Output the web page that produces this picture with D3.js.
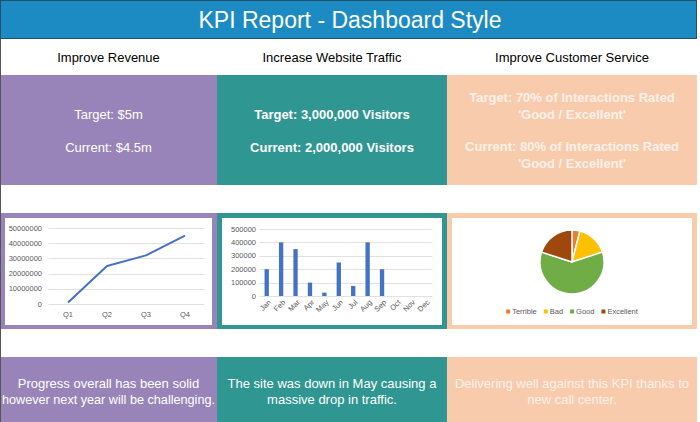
<!DOCTYPE html>
<html>
<head>
<meta charset="utf-8">
<script src="https://cdn.jsdelivr.net/npm/d3@7"></script>
<style>
  body { margin: 0; background: #fff; }
  svg { display: block; font-family: "Liberation Sans", Arial, sans-serif; }
</style>
</head>
<body>
<div id="chart"></div>
<script>
// data
const title = "KPI Report - Dashboard Style";
const headers = ["Improve Revenue", "Increase Website Traffic", "Improve Customer Service"];
const kpiLines = [
  ["Target: $5m", "Current: $4.5m"],
  ["Target: 3,000,000 Visitors", "Current: 2,000,000 Visitors"],
  ["Target: 70% of Interactions Rated", "'Good / Excellent'", "Current: 80% of Interactions Rated", "'Good / Excellent'"]
];
const notes = [
  ["Progress overall has been solid", "however next year will be challenging."],
  ["The site was down in May causing a", "massive drop in traffic."],
  ["Delivering well against this KPI thanks to", "new call center."]
];

const quarters = ["Q1", "Q2", "Q3", "Q4"];
const revenue = [1000000, 25000000, 32000000, 45000000];

const months = ["Jan", "Feb", "Mar", "Apr", "May", "Jun", "Jul", "Aug", "Sep", "Oct", "Nov", "Dec"];
const visitors = [200000, 400000, 350000, 100000, 25000, 250000, 75000, 400000, 200000, 0, 0, 0];

const ratings = ["Terrible", "Bad", "Good", "Excellent"];
const ratingShares = [4, 16, 60, 20];

// look
const blue = "#1d8bc3";
const purple = "#9884b8";
const teal = "#2f9692";
const peach = "#f8cbad";
const pieColors = ["#ed7d31", "#ffc000", "#70ad47", "#9e480e"];
const axisText = "#595959";
const gridColor = "#d9d9d9";

const cols = [
  { x: 0, w: 217, color: purple, text: "#fff" },
  { x: 217, w: 230, color: teal, text: "#fff" },
  { x: 447, w: 250, color: peach, text: "#fdf1e9" }
];

const width = 700, height = 422;

const svg = d3.select("#chart")
  .append("svg")
  .attr("width", width)
  .attr("height", height);

// title bar
svg.append("rect")
  .attr("x", 0.5).attr("y", 0.5)
  .attr("width", 696).attr("height", 38)
  .attr("fill", blue)
  .attr("stroke", "#24506c");

svg.append("text")
  .attr("x", 350).attr("y", 20)
  .attr("text-anchor", "middle")
  .attr("dominant-baseline", "central")
  .attr("font-size", 23)
  .attr("fill", "#fff")
  .text(title);

cols.forEach((c, i) => {
  const cx = c.x + c.w / 2;

  // header
  svg.append("text")
    .attr("x", cx).attr("y", 57)
    .attr("text-anchor", "middle")
    .attr("dominant-baseline", "central")
    .attr("font-size", 13)
    .attr("fill", "#000")
    .text(headers[i]);

  // kpi box
  svg.append("rect")
    .attr("x", c.x).attr("y", 75)
    .attr("width", c.w).attr("height", 110)
    .attr("fill", c.color);

  const lines = kpiLines[i];
  const ys = lines.length === 2 ? [114, 147] : [97, 114, 146, 163];
  lines.forEach((t, j) => {
    svg.append("text")
      .attr("x", cx).attr("y", ys[j])
      .attr("text-anchor", "middle")
      .attr("dominant-baseline", "central")
      .attr("font-size", 13)
      .attr("font-weight", i === 0 ? "normal" : "bold")
      .attr("fill", c.text)
      .text(t);
  });

  // chart frame
  svg.append("rect")
    .attr("x", c.x).attr("y", 213)
    .attr("width", c.w).attr("height", 116)
    .attr("fill", c.color);
  svg.append("rect")
    .attr("x", c.x + 5).attr("y", 218)
    .attr("width", c.w - 10).attr("height", 107)
    .attr("fill", "#fff");

  // note box
  svg.append("rect")
    .attr("x", c.x).attr("y", 357)
    .attr("width", c.w).attr("height", 65)
    .attr("fill", c.color);

  notes[i].forEach((t, j) => {
    const tx = svg.append("text")
      .attr("x", cx).attr("y", 383 + j * 16.5)
      .attr("text-anchor", "middle")
      .attr("dominant-baseline", "central")
      .attr("font-size", 13)
      .attr("fill", c.text)
      .text(t);
    // squeeze lines that would spill out of the box
    const len = tx.node().getComputedTextLength();
    if (len > c.w - 4) {
      tx.attr("textLength", c.w - 4).attr("lengthAdjust", "spacingAndGlyphs");
    }
  });
});

// left edge line
svg.append("line")
  .attr("x1", 0.5).attr("x2", 0.5)
  .attr("y1", 39).attr("y2", height)
  .attr("stroke", "#555").attr("stroke-width", 1);

// revenue line chart
const xRev = d3.scaleBand().domain(quarters).range([48.5, 204.5]);
const yRev = d3.scaleLinear().domain([0, 50000000]).range([304, 228]);

const revG = svg.append("g");
revG.selectAll("line.grid")
  .data(yRev.ticks(5))
  .enter()
  .append("line")
  .attr("x1", 48.5).attr("x2", 204.5)
  .attr("y1", d => Math.round(yRev(d)) + 0.5)
  .attr("y2", d => Math.round(yRev(d)) + 0.5)
  .attr("stroke", gridColor).attr("stroke-width", 0.8);

revG.selectAll("text.ytick")
  .data(yRev.ticks(5))
  .enter()
  .append("text")
  .attr("x", 42).attr("y", d => yRev(d))
  .attr("text-anchor", "end")
  .attr("dominant-baseline", "central")
  .attr("font-size", 7.5)
  .attr("fill", axisText)
  .text(d => d3.format("d")(d));

revG.selectAll("text.xtick")
  .data(quarters)
  .enter()
  .append("text")
  .attr("x", d => xRev(d) + xRev.bandwidth() / 2)
  .attr("y", 314)
  .attr("text-anchor", "middle")
  .attr("dominant-baseline", "central")
  .attr("font-size", 7.5)
  .attr("fill", axisText)
  .text(d => d);

revG.append("path")
  .datum(revenue)
  .attr("fill", "none")
  .attr("stroke", "#4472c4")
  .attr("stroke-width", 2)
  .attr("stroke-linejoin", "round")
  .attr("d", d3.line()
    .x((d, i) => xRev(quarters[i]) + xRev.bandwidth() / 2)
    .y(d => yRev(d)));

// visitors bar chart
const xVis = d3.scaleBand().domain(months).range([259.5, 432.5]).paddingInner(0.7).paddingOuter(0.35);
const yVis = d3.scaleLinear().domain([0, 500000]).range([296, 229]);

const visG = svg.append("g");
visG.selectAll("line.grid")
  .data(yVis.ticks(5))
  .enter()
  .append("line")
  .attr("x1", 259.5).attr("x2", 432.5)
  .attr("y1", d => Math.round(yVis(d)) + 0.5)
  .attr("y2", d => Math.round(yVis(d)) + 0.5)
  .attr("stroke", gridColor).attr("stroke-width", 0.8);

visG.selectAll("text.ytick")
  .data(yVis.ticks(5))
  .enter()
  .append("text")
  .attr("x", 256).attr("y", d => yVis(d))
  .attr("text-anchor", "end")
  .attr("dominant-baseline", "central")
  .attr("font-size", 7.5)
  .attr("fill", axisText)
  .text(d => d3.format("d")(d));

visG.selectAll("rect.bar")
  .data(visitors)
  .enter()
  .append("rect")
  .attr("x", (d, i) => xVis(months[i]))
  .attr("width", xVis.bandwidth())
  .attr("y", d => yVis(d))
  .attr("height", d => yVis(0) - yVis(d))
  .attr("fill", "#4472c4");

visG.selectAll("text.xtick")
  .data(months)
  .enter()
  .append("text")
  .attr("transform", d => `translate(${xVis(d) + xVis.bandwidth() / 2 + 3}, 301) rotate(-45)`)
  .attr("text-anchor", "end")
  .attr("dominant-baseline", "central")
  .attr("font-size", 7.5)
  .attr("fill", axisText)
  .text(d => d);

// ratings pie chart
const pie = d3.pie().sort(null).value(d => d);
const arc = d3.arc().innerRadius(0).outerRadius(32);

const pieG = svg.append("g")
  .attr("transform", "translate(572, 262)");

pieG.selectAll("path")
  .data(pie(ratingShares))
  .enter()
  .append("path")
  .attr("d", arc)
  .attr("fill", (d, i) => pieColors[i])
  .attr("stroke", "#fff")
  .attr("stroke-width", 1.5);

// legend, laid out from measured text widths and centred under the pie
const legend = svg.append("g").attr("transform", "translate(0, 311.5)");
const items = legend.selectAll("g")
  .data(ratings)
  .enter()
  .append("g");

items.append("rect")
  .attr("x", -2).attr("y", -2)
  .attr("width", 4).attr("height", 4)
  .attr("fill", (d, i) => pieColors[i]);

items.append("text")
  .attr("x", 4)
  .attr("dominant-baseline", "central")
  .attr("font-size", 7.5)
  .attr("fill", axisText)
  .text(d => d);

const widths = [];
items.select("text").each(function () { widths.push(this.getComputedTextLength() + 6); });
const gap = 7;
const total = d3.sum(widths) + gap * (widths.length - 1);
let lx = 572 - total / 2 + 2;
items.attr("transform", (d, i) => {
  const t = `translate(${lx}, 0)`;
  lx += widths[i] + gap;
  return t;
});
</script>
</body>
</html>
